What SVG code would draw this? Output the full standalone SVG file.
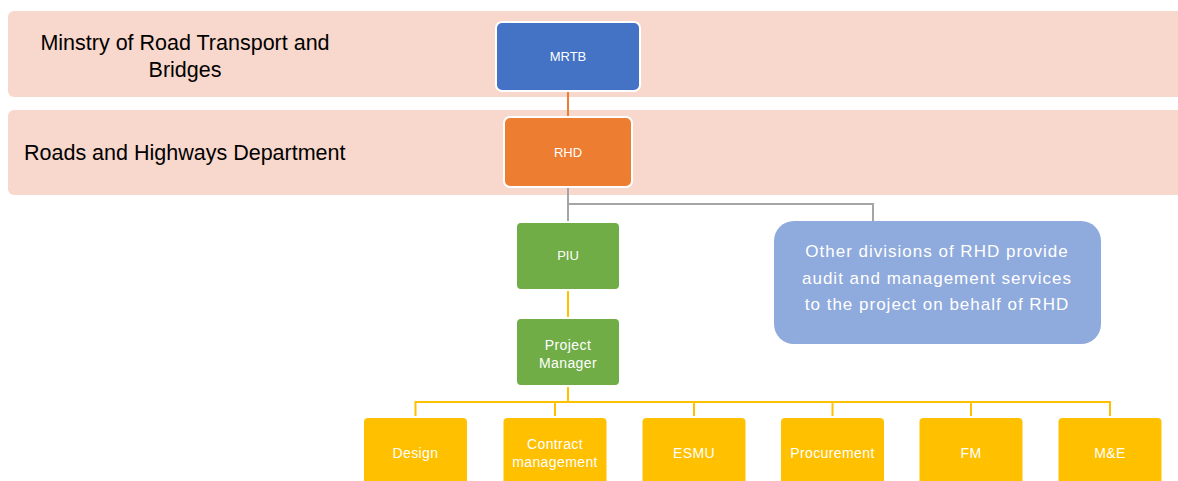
<svg xmlns="http://www.w3.org/2000/svg" width="1178" height="481" viewBox="0 0 1178 481">
<style>
.band{fill:#F8D7CC;}
.bandtxt{font-family:"Liberation Sans",Arial,sans-serif;font-size:21.5px;fill:#000;}
.box{stroke:#fff;stroke-width:2;}
.lbl{font-family:"Liberation Sans",Arial,sans-serif;font-size:13px;fill:#fff;text-anchor:middle;}
.lbl2{font-family:"Liberation Sans",Arial,sans-serif;font-size:14px;letter-spacing:0.4px;fill:#fff;text-anchor:middle;}
.yel{fill:#FFC000;}
.grn{fill:#70AD47;}
.conn{fill:none;stroke-width:2;}
</style>
<rect x="0" y="0" width="1178" height="481" fill="#fff"/>
<g id="band-ministry">
<rect class="band" x="8" y="11" width="1190" height="86" rx="6"/>
<text class="bandtxt" x="185" y="50" text-anchor="middle">Minstry of Road Transport and</text>
<text class="bandtxt" x="185" y="77" text-anchor="middle">Bridges</text>
</g>
<g id="band-rhd">
<rect class="band" x="8" y="110" width="1190" height="85" rx="6"/>
<text class="bandtxt" x="24" y="160">Roads and Highways Department</text>
</g>
<g id="connectors">
<line class="conn" x1="568" y1="91" x2="568" y2="117" stroke="#ED7D31"/>
<polyline class="conn" points="568,187 568,222" stroke="#A5A5A5"/>
<polyline class="conn" points="568,204 873,204 873,222" stroke="#A5A5A5"/>
<line class="conn" x1="568" y1="290" x2="568" y2="318" stroke="#FFC000"/>
<line class="conn" x1="568" y1="386" x2="568" y2="402" stroke="#FFC000"/>
<polyline class="conn" points="415.5,417 415.5,402 1110,402 1110,417" stroke="#FFC000"/>
<line class="conn" x1="555" y1="402" x2="555" y2="417" stroke="#FFC000"/>
<line class="conn" x1="694" y1="402" x2="694" y2="417" stroke="#FFC000"/>
<line class="conn" x1="832.5" y1="402" x2="832.5" y2="417" stroke="#FFC000"/>
<line class="conn" x1="971" y1="402" x2="971" y2="417" stroke="#FFC000"/>
</g>
<g id="mrtb">
<rect class="box" x="496" y="22" width="144" height="69" rx="6" fill="#4472C4"/>
<text class="lbl" x="568" y="61">MRTB</text>
</g>
<g id="rhd">
<rect class="box" x="504" y="117" width="128" height="70" rx="6" fill="#ED7D31"/>
<text class="lbl" x="568" y="157">RHD</text>
</g>
<g id="piu">
<rect class="box grn" x="516" y="222" width="104" height="68" rx="5"/>
<text class="lbl" x="568" y="260">PIU</text>
</g>
<g id="other">
<rect x="774" y="221" width="327" height="123" rx="20" fill="#8FAADC"/>
<g font-family="'Liberation Sans',Arial,sans-serif" font-size="17" letter-spacing="1" fill="#fff" text-anchor="middle">
<text x="937" y="257">Other divisions of RHD provide</text>
<text x="937" y="284">audit and management services</text>
<text x="937" y="310">to the project on behalf of RHD</text>
</g>
</g>
<g id="pm">
<rect class="box grn" x="516" y="318" width="104" height="68" rx="5"/>
<text class="lbl2" x="568" y="350">Project</text>
<text class="lbl2" x="568" y="368">Manager</text>
</g>
<g id="design">
<rect class="box yel" x="363" y="417" width="105" height="80" rx="5"/>
<text class="lbl2" x="415.5" y="458">Design</text>
</g>
<g id="contract">
<rect class="box yel" x="502.5" y="417" width="105" height="80" rx="5"/>
<text class="lbl2" x="555" y="449">Contract</text>
<text class="lbl2" x="555" y="467">management</text>
</g>
<g id="esmu">
<rect class="box yel" x="641.5" y="417" width="105" height="80" rx="5"/>
<text class="lbl2" x="694" y="458">ESMU</text>
</g>
<g id="procurement">
<rect class="box yel" x="780" y="417" width="105" height="80" rx="5"/>
<text class="lbl2" x="832.5" y="458">Procurement</text>
</g>
<g id="fm">
<rect class="box yel" x="918.5" y="417" width="105" height="80" rx="5"/>
<text class="lbl2" x="971" y="458">FM</text>
</g>
<g id="me">
<rect class="box yel" x="1057.5" y="417" width="105" height="80" rx="5"/>
<text class="lbl2" x="1110" y="458">M&amp;E</text>
</g>
</svg>
